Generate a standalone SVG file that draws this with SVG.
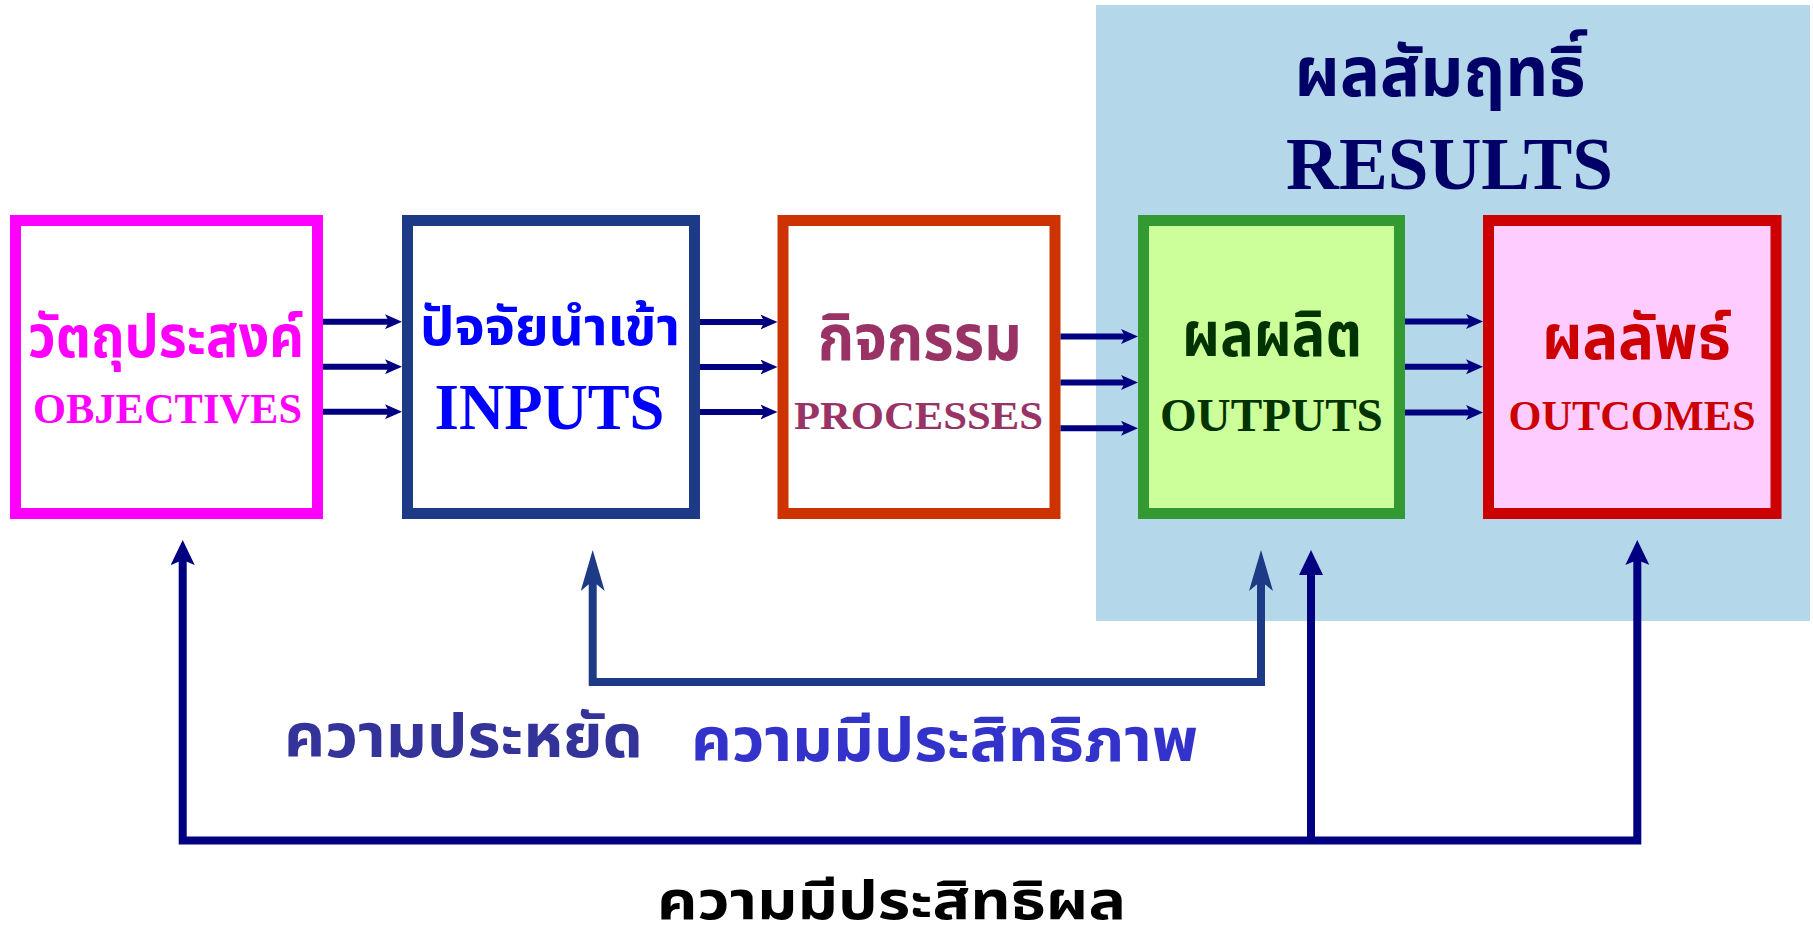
<svg xmlns="http://www.w3.org/2000/svg" width="1813" height="945" viewBox="0 0 1813 945">
<defs>
<style>
.box{stroke-width:11}
.th{font-family:"Noto Sans Thai","Noto Sans","DejaVu Sans",sans-serif;font-weight:bold;text-anchor:middle}
.en{font-family:"Liberation Serif","Times New Roman",serif;font-weight:bold;text-anchor:middle}
.sa{stroke:#000080;stroke-width:6;fill:none;marker-end:url(#sm)}
</style>
<marker id="sm" markerUnits="userSpaceOnUse" viewBox="0 0 17 15" markerWidth="17" markerHeight="15" refX="5" refY="7.5" orient="auto">
<path d="M0,0 L17,7.5 L0,15 L4,7.5 Z" fill="#000080"/>
</marker>
<marker id="hn" markerUnits="userSpaceOnUse" viewBox="0 0 25 24" markerWidth="25" markerHeight="24" refX="15" refY="12" orient="auto-start-reverse">
<path d="M0,0 L25,12 L0,24 L5,12 Z" fill="#000080"/>
</marker>
<marker id="ht" markerUnits="userSpaceOnUse" viewBox="0 0 25 24" markerWidth="25" markerHeight="24" refX="15" refY="12" orient="auto">
<path d="M0,0 L25,12 L0,24 Z" fill="#000080"/>
</marker>
<marker id="hb" markerUnits="userSpaceOnUse" viewBox="0 0 41 24" markerWidth="41" markerHeight="24" refX="25" refY="12" orient="auto-start-reverse">
<path d="M0,0 L41,12 L0,24 L10,12 Z" fill="#1c3a86"/>
</marker>
</defs>
<rect id="results-area" x="1096" y="5" width="714" height="616" fill="#b4d7ea"/>
<g id="results-title">
<text class="th" x="1440" y="96" font-size="70" fill="#000066" textLength="291" lengthAdjust="spacingAndGlyphs">ผลสัมฤทธิ์</text>
<text class="en" x="1449.5" y="189" font-size="74" fill="#000066" textLength="327" lengthAdjust="spacingAndGlyphs">RESULTS</text>
</g>
<g id="objectives">
<rect class="box" x="15.5" y="220.5" width="302" height="293" fill="#ffffff" stroke="#ff00ff"/>
<text class="th" x="166" y="357" font-size="58" fill="#ff00ff" textLength="276" lengthAdjust="spacingAndGlyphs">วัตถุประสงค์</text>
<text class="en" x="167.5" y="423" font-size="42" fill="#ff00ff" textLength="269" lengthAdjust="spacingAndGlyphs">OBJECTIVES</text>
</g>
<g id="inputs">
<rect class="box" x="407.5" y="220.5" width="287" height="293" fill="#ffffff" stroke="#1c3a86"/>
<text class="th" x="550" y="345" font-size="54" fill="#0000ff" textLength="260" lengthAdjust="spacingAndGlyphs">ปัจจัยนำเข้า</text>
<text class="en" x="549.5" y="429" font-size="65" fill="#0000ff" textLength="230" lengthAdjust="spacingAndGlyphs">INPUTS</text>
</g>
<g id="processes">
<rect class="box" x="783" y="220.5" width="272" height="293" fill="#ffffff" stroke="#cc3300"/>
<text class="th" x="919.7" y="360" font-size="64" fill="#993366" textLength="204" lengthAdjust="spacingAndGlyphs">กิจกรรม</text>
<text class="en" x="918.4" y="429" font-size="41" fill="#993366" textLength="249" lengthAdjust="spacingAndGlyphs">PROCESSES</text>
</g>
<g id="outputs">
<rect class="box" x="1143.5" y="220.5" width="256" height="293" fill="#ccff99" stroke="#339933"/>
<text class="th" x="1272" y="356" font-size="62" fill="#003300" textLength="180" lengthAdjust="spacingAndGlyphs">ผลผลิต</text>
<text class="en" x="1271.4" y="431" font-size="47" fill="#003300" textLength="223" lengthAdjust="spacingAndGlyphs">OUTPUTS</text>
</g>
<g id="outcomes">
<rect class="box" x="1488.5" y="220.5" width="287.5" height="293" fill="#ffccff" stroke="#cc0000"/>
<text class="th" x="1636.4" y="359" font-size="62" fill="#cc0000" textLength="189" lengthAdjust="spacingAndGlyphs">ผลลัพธ์</text>
<text class="en" x="1632" y="430" font-size="42" fill="#cc0000" textLength="247" lengthAdjust="spacingAndGlyphs">OUTCOMES</text>
</g>
<g id="connectors">
<path class="sa" d="M323,321.7 H390"/>
<path class="sa" d="M323,366.7 H390"/>
<path class="sa" d="M323,411.7 H390"/>
<path class="sa" d="M700,322 H765.5"/>
<path class="sa" d="M700,367 H765.5"/>
<path class="sa" d="M700,412 H765.5"/>
<path class="sa" d="M1060.5,336.5 H1126"/>
<path class="sa" d="M1060.5,382.5 H1126"/>
<path class="sa" d="M1060.5,428.3 H1126"/>
<path class="sa" d="M1405,321.4 H1471"/>
<path class="sa" d="M1405,366.8 H1471"/>
<path class="sa" d="M1405,412.6 H1471"/>
<path d="M182.7,550 V840.5 H1637.3 V550" fill="none" stroke="#000080" stroke-width="8" marker-start="url(#hn)" marker-end="url(#hn)"/>
<path d="M1311,840.5 V560" fill="none" stroke="#000080" stroke-width="8" marker-end="url(#ht)"/>
<path d="M592.7,566 V682 H1261 V566" fill="none" stroke="#1c3a86" stroke-width="8" marker-start="url(#hb)" marker-end="url(#hb)"/>
</g>
<g id="labels">
<text class="th" x="463.5" y="757" font-size="60" fill="#333399" textLength="359" lengthAdjust="spacingAndGlyphs">ความประหยัด</text>
<text class="th" x="944.5" y="761" font-size="60" fill="#3333cc" textLength="507" lengthAdjust="spacingAndGlyphs">ความมีประสิทธิภาพ</text>
<text class="th" x="891.5" y="919" font-size="54" fill="#000000" textLength="469" lengthAdjust="spacingAndGlyphs">ความมีประสิทธิผล</text>
</g>
</svg>
